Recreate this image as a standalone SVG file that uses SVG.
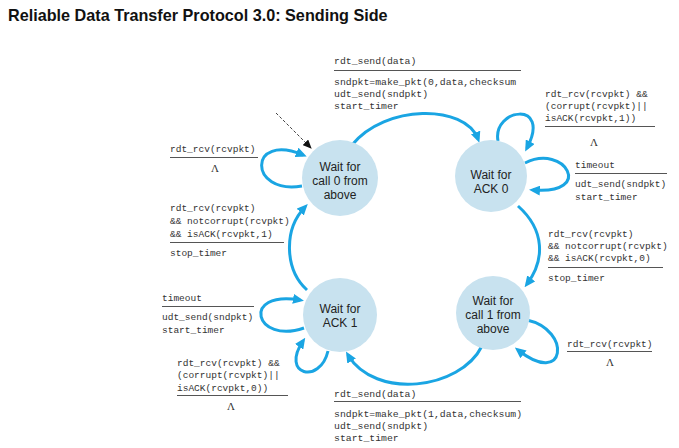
<svg xmlns="http://www.w3.org/2000/svg" width="679" height="448" viewBox="0 0 679 448">
<style>
.title{font-family:"Liberation Sans",Arial,sans-serif;font-weight:bold;font-size:16.2px;fill:#111}
.st{fill:#c8e2ef;stroke:none}
.stt{font-family:"Liberation Sans",Arial,sans-serif;font-size:12px;fill:#222;text-anchor:middle}
.c{fill:none;stroke:#1aa5e3;stroke-width:3}
.m{font-family:"Liberation Mono","Courier New",monospace;font-size:9.5px;fill:#333}
.mw{font-family:"Liberation Mono","Courier New",monospace;font-size:9.8px;fill:#333}
.ln{stroke:#555;stroke-width:1}
.lam{font-family:"Liberation Serif","Times New Roman",serif;font-size:11px;fill:#333;text-anchor:middle}
</style>
<defs>
<marker id="ah" markerUnits="userSpaceOnUse" markerWidth="11" markerHeight="10" refX="7" refY="5" orient="auto">
<path d="M0,0 L11,5 L0,10 z" fill="#1aa5e3"/>
</marker>
<marker id="dh" markerUnits="userSpaceOnUse" markerWidth="9" markerHeight="8" refX="8" refY="4" orient="auto">
<path d="M0,0 L9,4 L0,8 z" fill="#111"/>
</marker>
</defs>
<rect width="679" height="448" fill="#fff"/>
<text class="title" x="8" y="21">Reliable Data Transfer Protocol 3.0: Sending Side</text>

<g id="connectors">
<path class="c" d="M352,145 C385,104 465,104 478,139" marker-end="url(#ah)"/>
<path class="c" d="M498,141 C492,108 552,100 527,148" marker-end="url(#ah)"/>
<path class="c" d="M525,163 C565,143 595,195 533,190" marker-end="url(#ah)"/>
<path class="c" d="M518,206 C545,230 545,260 527,284" marker-end="url(#ah)"/>
<path class="c" d="M527,320 C572,330 566,388 518,350" marker-end="url(#ah)"/>
<path class="c" d="M482,346 C460,390 375,400 348,355" marker-end="url(#ah)"/>
<path class="c" d="M304,328 C255,345 240,290 300,300" marker-end="url(#ah)"/>
<path class="c" d="M328,351 C320,385 280,375 303,341" marker-end="url(#ah)"/>
<path class="c" d="M307,290 C285,270 283,230 305,207" marker-end="url(#ah)"/>
<path class="c" d="M302,186 C248,195 248,132 303,155" marker-end="url(#ah)"/>
<path d="M276,113 L311,148" fill="none" stroke="#111" stroke-width="0.8" stroke-dasharray="3,2" marker-end="url(#dh)"/>
</g>

<g id="call0">
<circle class="st" cx="340" cy="178" r="38"/>
<text class="stt" x="340" y="171">Wait for</text>
<text class="stt" x="340" y="185">call 0 from</text>
<text class="stt" x="340" y="199">above</text>
</g>
<g id="ack0">
<circle class="st" cx="491" cy="176" r="36"/>
<text class="stt" x="491" y="179">Wait for</text>
<text class="stt" x="491" y="193">ACK 0</text>
</g>
<g id="ack1">
<circle class="st" cx="340" cy="315" r="37"/>
<text class="stt" x="340" y="313">Wait for</text>
<text class="stt" x="340" y="327">ACK 1</text>
</g>
<g id="call1">
<circle class="st" cx="493" cy="313" r="37"/>
<text class="stt" x="493" y="305">Wait for</text>
<text class="stt" x="493" y="319">call 1 from</text>
<text class="stt" x="493" y="333">above</text>
</g>

<g id="labels">
<g id="lbl-top">
<text class="mw" x="334" y="64">rdt_send(data)</text>
<line class="ln" x1="334" y1="70.5" x2="521" y2="70.5"/>
<text class="mw" x="334" y="85">sndpkt=make_pkt(0,data,checksum</text>
<text class="mw" x="334" y="97">udt_send(sndpkt)</text>
<text class="mw" x="334" y="109">start_timer</text>
</g>
<g id="lbl-call0-loop">
<text class="m" x="170" y="151.5">rdt_rcv(rcvpkt)</text>
<line class="ln" x1="170" y1="157.5" x2="258" y2="157.5"/>
<text class="lam" x="215" y="172">Λ</text>
</g>
<g id="lbl-left">
<text class="m" x="170" y="210.5">rdt_rcv(rcvpkt)</text>
<text class="m" x="170" y="223.5">&amp;&amp; notcorrupt(rcvpkt)</text>
<text class="m" x="170" y="236.5">&amp;&amp; isACK(rcvpkt,1)</text>
<line class="ln" x1="170" y1="242.5" x2="284" y2="242.5"/>
<text class="m" x="170" y="255.5">stop_timer</text>
</g>
<g id="lbl-ack0-top">
<text class="m" x="545" y="96.5">rdt_rcv(rcvpkt) &amp;&amp;</text>
<text class="m" x="545" y="108.5">(corrupt(rcvpkt)||</text>
<text class="m" x="545" y="120.5">isACK(rcvpkt,1))</text>
<line class="ln" x1="545" y1="126.5" x2="655" y2="126.5"/>
<text class="lam" x="594" y="146">Λ</text>
</g>
<g id="lbl-ack0-timeout">
<text class="m" x="575" y="167.5">timeout</text>
<line class="ln" x1="575" y1="173.5" x2="667" y2="173.5"/>
<text class="m" x="575" y="186.5">udt_send(sndpkt)</text>
<text class="m" x="575" y="199.5">start_timer</text>
</g>
<g id="lbl-right">
<text class="m" x="548" y="236.5">rdt_rcv(rcvpkt)</text>
<text class="m" x="548" y="248.5">&amp;&amp; notcorrupt(rcvpkt)</text>
<text class="m" x="548" y="260.5">&amp;&amp; isACK(rcvpkt,0)</text>
<line class="ln" x1="548" y1="267.5" x2="663" y2="267.5"/>
<text class="m" x="548" y="280.5">stop_timer</text>
</g>
<g id="lbl-call1-loop">
<text class="m" x="567" y="346.5">rdt_rcv(rcvpkt)</text>
<line class="ln" x1="567" y1="351.5" x2="652" y2="351.5"/>
<text class="lam" x="610" y="366">Λ</text>
</g>
<g id="lbl-bottom">
<text class="mw" x="334" y="396.5">rdt_send(data)</text>
<line class="ln" x1="334" y1="401.5" x2="521" y2="401.5"/>
<text class="mw" x="334" y="416.5">sndpkt=make_pkt(1,data,checksum)</text>
<text class="mw" x="334" y="428.5">udt_send(sndpkt)</text>
<text class="mw" x="334" y="440.5">start_timer</text>
</g>
<g id="lbl-ack1-timeout">
<text class="m" x="162" y="300.5">timeout</text>
<line class="ln" x1="162" y1="306.5" x2="254" y2="306.5"/>
<text class="m" x="162" y="319.5">udt_send(sndpkt)</text>
<text class="m" x="162" y="332.5">start_timer</text>
</g>
<g id="lbl-ack1-loop">
<text class="m" x="177" y="365.5">rdt_rcv(rcvpkt) &amp;&amp;</text>
<text class="m" x="177" y="377.5">(corrupt(rcvpkt)||</text>
<text class="m" x="177" y="390.5">isACK(rcvpkt,0))</text>
<line class="ln" x1="177" y1="395.5" x2="288" y2="395.5"/>
<text class="lam" x="231" y="410">Λ</text>
</g>
</g>
</svg>
